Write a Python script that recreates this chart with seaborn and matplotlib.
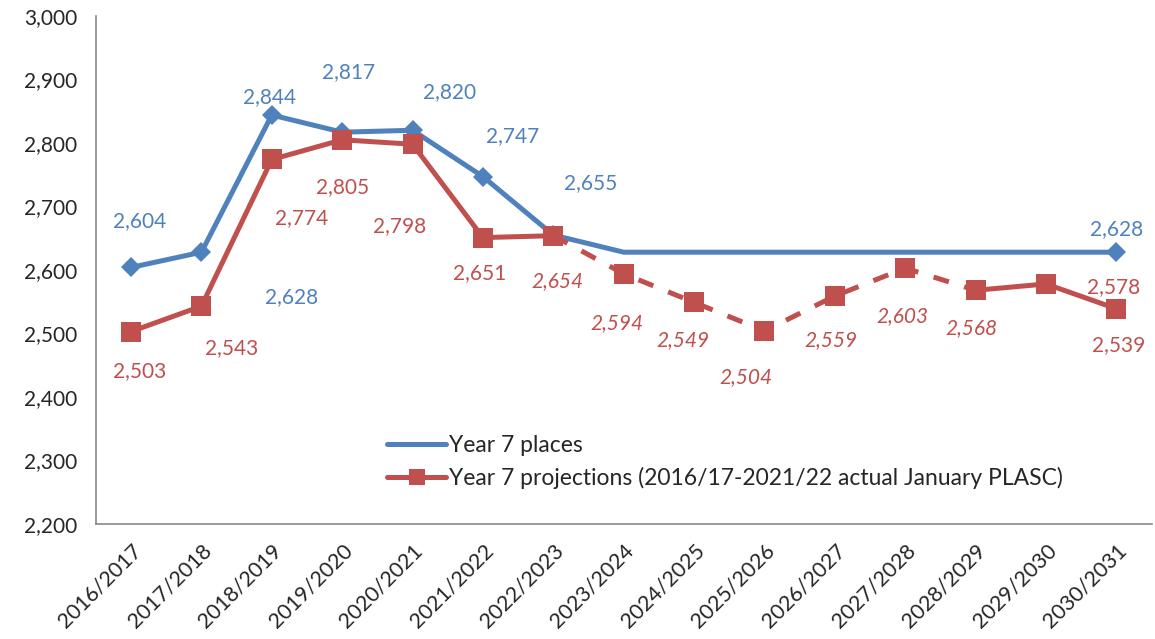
"""
Year 7 places vs projections
"""

import matplotlib.pyplot as plt
import seaborn as sns
import numpy as np
import pandas as pd

years = ['2016/2017', '2017/2018', '2018/2019', '2019/2020', '2020/2021',
         '2021/2022', '2022/2023', '2023/2024', '2024/2025', '2025/2026',
         '2026/2027', '2027/2028', '2028/2029', '2029/2030', '2030/2031']
places = [2604, 2628, 2844, 2817, 2820, 2747, 2655, 2628, 2628, 2628,
          2628, 2628, 2628, 2628, 2628]
projections = [2503, 2543, 2774, 2805, 2798, 2651, 2654, 2594, 2549, 2504,
               2559, 2603, 2568, 2578, 2539]

# puntos con etiqueta / marcador en la serie azul
places_marked = [0, 1, 2, 3, 4, 5, 6, 14]

BLUE = '#4F81BD'
RED = '#C0504D'

sns.set_style('white')
plt.rcParams['font.family'] = ['Lato', 'DejaVu Sans']

df = pd.DataFrame({'year': years, 'x': np.arange(len(years)),
                   'places': places, 'projections': projections})

fig = plt.figure(figsize=(11.55, 6.39), dpi=100)
ax = fig.add_axes([0.083, 0.18, 0.914, 0.795])

# linea azul
sns.lineplot(data=df, x='x', y='places', ax=ax, color=BLUE, lw=3.6,
             marker='D', markersize=10, markevery=places_marked,
             markeredgewidth=0, label='Year 7 places', legend=False)

# linea roja: tramo real, tramo proyectado (discontinuo), tramo final
segments = [(0, 6, '-'), (6, 12, (0, (3.2, 3.2))), (12, 14, '-')]
for a, b, ls in segments:
    seg = df.iloc[a:b + 1]
    sns.lineplot(data=seg, x='x', y='projections', ax=ax, color=RED, lw=3.6,
                 linestyle=ls, legend=False)
sns.scatterplot(data=df, x='x', y='projections', ax=ax, color=RED, marker='s',
                s=200, linewidth=0, zorder=5, legend=False)

# etiquetas de datos (desplazamiento en pixeles)
blue_off = {0: (9, 46), 1: (90, -45), 2: (-2, 18), 3: (6, 60), 4: (37, 38),
            5: (30, 41), 6: (37, 52), 14: (0, 23)}
red_off = [(9, -40), (30, -42), (30, -59), (0, -47), (-13, -82), (-3, -36),
           (4, -45), (-7, -49), (-11, -38), (-19, -46), (-4, -44), (-3, -48),
           (-4, -38), (68, -3), (2, -36)]
italic_idx = range(6, 13)

for i, (dx, dy) in blue_off.items():
    ax.annotate(f'{places[i]:,}', (i, places[i]), xytext=(dx, dy),
                textcoords='offset pixels', ha='center', va='center',
                color=BLUE, fontsize=15)
for i, (dx, dy) in enumerate(red_off):
    ax.annotate(f'{projections[i]:,}', (i, projections[i]), xytext=(dx, dy),
                textcoords='offset pixels', ha='center', va='center',
                color=RED, fontsize=15,
                style='italic' if i in italic_idx else 'normal')

ax.set_xlim(-0.5, len(years) - 0.5)
ax.set_ylim(2200, 3000)
ax.set_yticks(np.arange(2200, 3001, 100))
ax.set_yticklabels([f'{v:,}' for v in range(2200, 3001, 100)], fontsize=15)
ax.set_xticks(np.arange(len(years)))
ax.set_xticklabels(years, rotation=45, ha='right', rotation_mode='anchor',
                   fontsize=15.5)
ax.set_xticks(np.arange(-0.5, len(years)), minor=True)
ax.tick_params(axis='x', which='major', length=0, pad=12)
ax.tick_params(axis='x', which='minor', length=6, color='#888888', width=1)
ax.tick_params(axis='y', length=6.5, color='#888888', width=1,
               direction='out', pad=7)
ax.set_xlabel('')
ax.set_ylabel('')

for side in ['top', 'right']:
    ax.spines[side].set_visible(False)
for side in ['left', 'bottom']:
    ax.spines[side].set_color('#888888')
    ax.spines[side].set_linewidth(1.2)

# leyenda
h_blue = plt.Line2D([], [], color=BLUE, lw=3.6)
h_red = plt.Line2D([], [], color=RED, lw=3.6, marker='s', markersize=12,
                   markeredgewidth=0)
ax.legend([h_blue, h_red],
          ['Year 7 places',
           'Year 7 projections (2016/17-2021/22 actual January PLASC)'],
          loc='upper left', bbox_to_anchor=(0.256, 0.215), frameon=False,
          fontsize=16.5, handlelength=2.6, handletextpad=0.1,
          labelspacing=0.45)

fig.savefig('out.png', dpi=100)
